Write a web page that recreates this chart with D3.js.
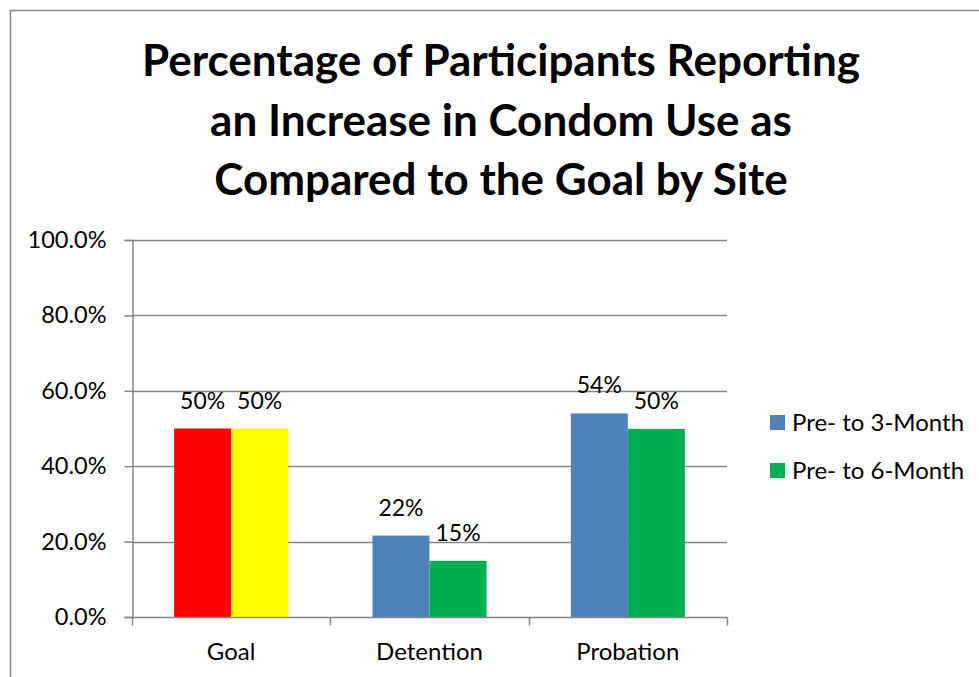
<!DOCTYPE html>
<html>
<head>
<meta charset="utf-8">
<script src="https://cdn.jsdelivr.net/npm/d3@7"></script>
<style>
  html, body { margin: 0; padding: 0; background: #fff; }
  svg { display: block; }
  text { font-family: Lato, "Open Sans", sans-serif; fill: #000; }
</style>
</head>
<body>
<svg id="chart" width="979" height="677"></svg>
<script>
// Sites and results
const sites = ["Goal", "Detention", "Probation"];
const seriesNames = ["Pre- to 3-Month", "Pre- to 6-Month"];
const threeMonth = [0.50, 0.216, 0.54];
const sixMonth = [0.50, 0.149, 0.499];
const yTicks = [0, 0.2, 0.4, 0.6, 0.8, 1.0];
const titleLines = [
  "Percentage of Participants Reporting",
  "an Increase in Condom Use as",
  "Compared to the Goal by Site"
];

const seriesColors = ["#4f81bd", "#00b050"];
const goalColors = ["#ff0000", "#ffff00"];
const gridColor = "#868686";
const fontStack = "Lato, 'Open Sans', sans-serif";

const svg = d3.select("#chart");

// Outer chart frame (runs off the right and bottom edges)
svg.append("rect")
  .attr("x", 10.5).attr("y", 10.5)
  .attr("width", 1000).attr("height", 700)
  .attr("fill", "#fff")
  .attr("stroke", "#888").attr("stroke-width", 1.5);

// Title
svg.append("g").selectAll("text")
  .data(titleLines)
  .join("text")
  .attr("x", 501)
  .attr("y", (d, i) => 76 + i * 59.5)
  .attr("text-anchor", "middle")
  .attr("font-size", 44)
  .attr("font-weight", "bold")
  .text(d => d);

const plot = { left: 132, right: 727, top: 240, bottom: 617 };

const x0 = d3.scaleBand()
  .domain(sites)
  .range([plot.left, plot.right])
  .paddingInner(0.425)
  .paddingOuter(0.2125);

const x1 = d3.scaleBand()
  .domain([0, 1])
  .range([0, x0.bandwidth()]);

const y = d3.scaleLinear()
  .domain([0, 1])
  .range([plot.bottom, plot.top]);

// Horizontal gridlines
svg.append("g").selectAll("line")
  .data(yTicks.filter(d => d > 0))
  .join("line")
  .attr("x1", plot.left).attr("x2", plot.right)
  .attr("y1", d => Math.round(y(d)) + 0.5)
  .attr("y2", d => Math.round(y(d)) + 0.5)
  .attr("stroke", gridColor).attr("stroke-width", 1.5);

// Y axis
const yAxis = d3.axisLeft(y)
  .tickValues(yTicks)
  .tickFormat(d3.format(".1%"))
  .tickSize(8)
  .tickPadding(18);

const gy = svg.append("g")
  .attr("transform", `translate(${plot.left + 0.5},0)`)
  .call(yAxis);
gy.select(".domain").attr("stroke", gridColor).attr("stroke-width", 1.5);
gy.selectAll(".tick line").attr("stroke", gridColor).attr("stroke-width", 1.5);
gy.selectAll(".tick text")
  .attr("font-family", fontStack)
  .attr("font-size", 23.5)
  .attr("fill", "#000");

// Bars
const rows = sites.map((s, i) => ({ site: s, idx: i, values: [threeMonth[i], sixMonth[i]] }));

const groups = svg.append("g").selectAll("g")
  .data(rows)
  .join("g")
  .attr("transform", d => `translate(${x0(d.site)},0)`);

groups.selectAll("rect")
  .data(d => d.values.map((v, j) => ({ v, j, goal: d.idx === 0 })))
  .join("rect")
  .attr("x", d => x1(d.j))
  .attr("y", d => y(d.v))
  .attr("width", x1.bandwidth())
  .attr("height", d => y(0) - y(d.v))
  .attr("fill", d => d.goal ? goalColors[d.j] : seriesColors[d.j]);

// Value labels
groups.selectAll("text")
  .data(d => d.values.map((v, j) => ({ v, j })))
  .join("text")
  .attr("x", d => x1(d.j) + x1.bandwidth() / 2)
  .attr("y", d => y(d.v) - 20)
  .attr("text-anchor", "middle")
  .attr("font-size", 23)
  .text(d => d3.format(".0%")(d.v));

// X axis
const xAxis = d3.axisBottom(x0).tickSize(0).tickPadding(0);
const gx = svg.append("g")
  .attr("transform", `translate(0,${plot.bottom + 0.5})`)
  .call(xAxis);
gx.select(".domain").remove();
gx.append("line")
  .attr("x1", plot.left).attr("x2", plot.right)
  .attr("stroke", gridColor).attr("stroke-width", 1.5);
// Category divider ticks between sites
const step = (plot.right - plot.left) / sites.length;
gx.selectAll(".divider")
  .data(d3.range(sites.length + 1))
  .join("line")
  .attr("class", "divider")
  .attr("x1", i => Math.round(plot.left + i * step) + 0.5)
  .attr("x2", i => Math.round(plot.left + i * step) + 0.5)
  .attr("y1", 0).attr("y2", 8)
  .attr("stroke", gridColor).attr("stroke-width", 1.5);
gx.selectAll(".tick text")
  .attr("font-family", fontStack)
  .attr("font-size", 24)
  .attr("fill", "#000")
  .attr("dy", null)
  .attr("y", 42);

// Legend
const legend = svg.append("g")
  .attr("transform", "translate(770,415)");
const items = legend.selectAll("g")
  .data(seriesNames)
  .join("g")
  .attr("transform", (d, i) => `translate(0,${i * 48})`);
items.append("rect")
  .attr("width", 15).attr("height", 15)
  .attr("fill", (d, i) => seriesColors[i]);
items.append("text")
  .attr("x", 22).attr("y", 16)
  .attr("font-size", 24)
  .text(d => d);
</script>
</body>
</html>
